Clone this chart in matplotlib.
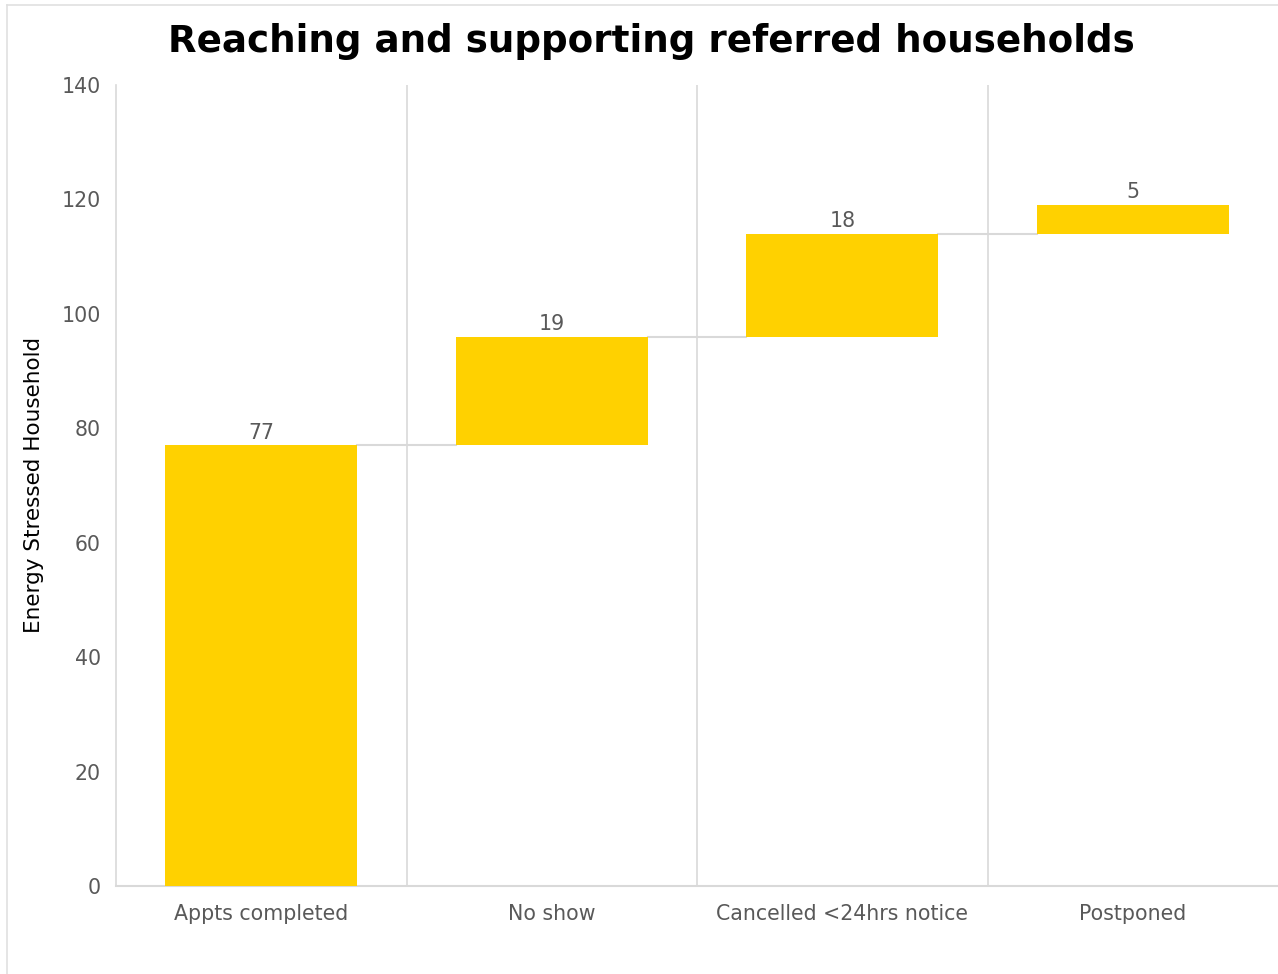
import matplotlib.pyplot as plt
from matplotlib.lines import Line2D

# Waterfall data
categories = ['Appts completed', 'No show', 'Cancelled <24hrs notice', 'Postponed']
values = [77, 19, 18, 5]

bar_color = '#FFD100'
grid_color = '#D9D9D9'
text_gray = '#595959'

fig = plt.figure(figsize=(12.78, 9.74), dpi=100)
ax = fig.add_axes([116 / 1278, 88 / 974, 1 - 116 / 1278, 801 / 974])

# running totals -> bottoms
bottoms = []
total = 0
for v in values:
    bottoms.append(total)
    total += v

x = list(range(len(categories)))
width = 0.66
ax.bar(x, values, bottom=bottoms, width=width, color=bar_color, zorder=3)

# value labels
for i, (b, v) in enumerate(zip(bottoms, values)):
    ax.annotate(str(v), (i, b + v), xytext=(0, 2), textcoords='offset points',
                ha='center', va='bottom', fontsize=14.8, color=text_gray)

# connector lines between bars
for i in range(len(values) - 1):
    top = bottoms[i] + values[i]
    ax.plot([i + width / 2, i + 1 - width / 2], [top, top], color=grid_color,
            linewidth=1.5, zorder=2)

# category separators
for sep in [0.5, 1.5, 2.5]:
    ax.axvline(sep, color=grid_color, linewidth=1.2, zorder=1)

ax.set_xlim(-0.5, 3.5)
ax.set_ylim(0, 140)
ax.set_yticks(range(0, 141, 20))
ax.set_xticks(x)
ax.set_xticklabels(categories)
ax.tick_params(axis='both', length=0, labelsize=14.8, labelcolor=text_gray)
ax.tick_params(axis='y', pad=11)
ax.tick_params(axis='x', pad=13)

for s in ['top', 'right']:
    ax.spines[s].set_visible(False)
ax.spines['left'].set_color(grid_color)
ax.spines['left'].set_linewidth(1.2)
ax.spines['bottom'].set_color(grid_color)
ax.spines['bottom'].set_linewidth(1.5)

fig.text(34 / 1278, 1 - 485 / 974, 'Energy Stressed Household', rotation=90,
         ha='center', va='center', fontsize=15.5, color='black')
fig.text(651 / 1278, 1 - 42 / 974, 'Reaching and supporting referred households',
         ha='center', va='center', fontsize=26.8, fontweight='bold', color='black')

# faint outer frame (top and left edges only)
fig.lines.append(Line2D([7 / 1278, 7 / 1278], [0, 1 - 5 / 974], transform=fig.transFigure,
                        color='#E0E0E0', linewidth=1.2))
fig.lines.append(Line2D([7 / 1278, 1], [1 - 5 / 974, 1 - 5 / 974], transform=fig.transFigure,
                        color='#E0E0E0', linewidth=1.2))

fig.savefig('out.png', dpi=100)
